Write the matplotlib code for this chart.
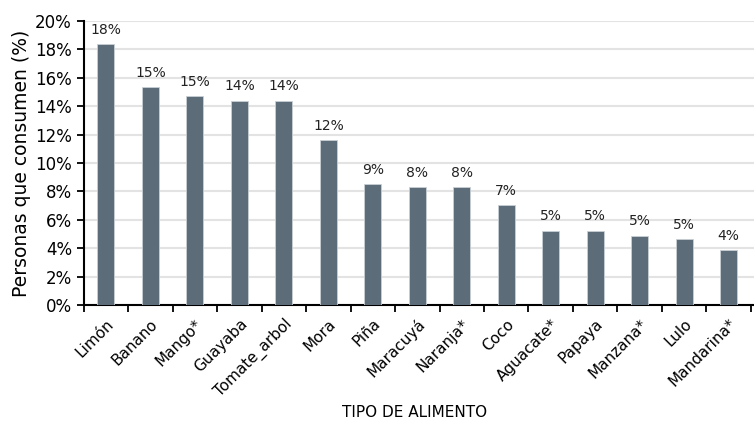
import matplotlib.pyplot as plt
import numpy as np

alimentos = ['Limón', 'Banano', 'Mango*', 'Guayaba', 'Tomate_arbol', 'Mora', 'Piña',
             'Maracuyá', 'Naranja*', 'Coco', 'Aguacate*', 'Papaya', 'Manzana*', 'Lulo',
             'Mandarina*']
consumo = [18.4, 15.35, 14.7, 14.4, 14.4, 11.6, 8.55, 8.3, 8.3, 7.05, 5.25, 5.25, 4.9, 4.65, 3.9]
yticks = [0, 2, 4, 6, 8, 10, 12, 14, 16, 18, 20]

plt.rcParams['font.family'] = 'DejaVu Sans'

fig = plt.figure(figsize=(7.54, 4.28), dpi=100)
ax = fig.add_axes([0.111, 0.287, 0.889, 0.664])

x = np.arange(len(alimentos))
bars = ax.bar(x, consumo, width=0.38, color='#5c6c78', edgecolor='#c9d0d5', linewidth=0.6, zorder=3)
for b, v in zip(bars, consumo):
    ax.text(b.get_x() + b.get_width() / 2, v + 0.5, '%d%%' % round(v),
            ha='center', va='bottom', fontsize=10, color='#222222')

ax.set_xlim(-0.5, len(alimentos) - 0.43)
ax.set_ylim(0, 20)
ax.set_yticks(yticks)
ax.set_yticklabels(['%d%%' % t for t in yticks], fontsize=12)
ax.yaxis.grid(True, color='#e3e3e3', linewidth=1.5, zorder=0)

ax.set_xticks(np.arange(len(alimentos) + 1) - 0.5, minor=False)
ax.set_xticklabels([])
ax.set_xticks(x, minor=True)
ax.set_xticklabels(alimentos, minor=True, rotation=45, ha='right', rotation_mode='anchor',
                   fontsize=11)
ax.tick_params(axis='x', which='minor', length=0, pad=8)
ax.tick_params(axis='x', which='major', length=5, width=1.3)
ax.tick_params(axis='y', length=5, width=1.3)

for s in ['top', 'right']:
    ax.spines[s].set_visible(False)
for s in ['left', 'bottom']:
    ax.spines[s].set_linewidth(1.5)

ax.set_ylabel('Personas que consumen (%)', fontsize=13.5, labelpad=3)
fig.text(0.55, 0.025, 'TIPO DE ALIMENTO', ha='center', fontsize=11)

plt.savefig('out.png', dpi=100)
